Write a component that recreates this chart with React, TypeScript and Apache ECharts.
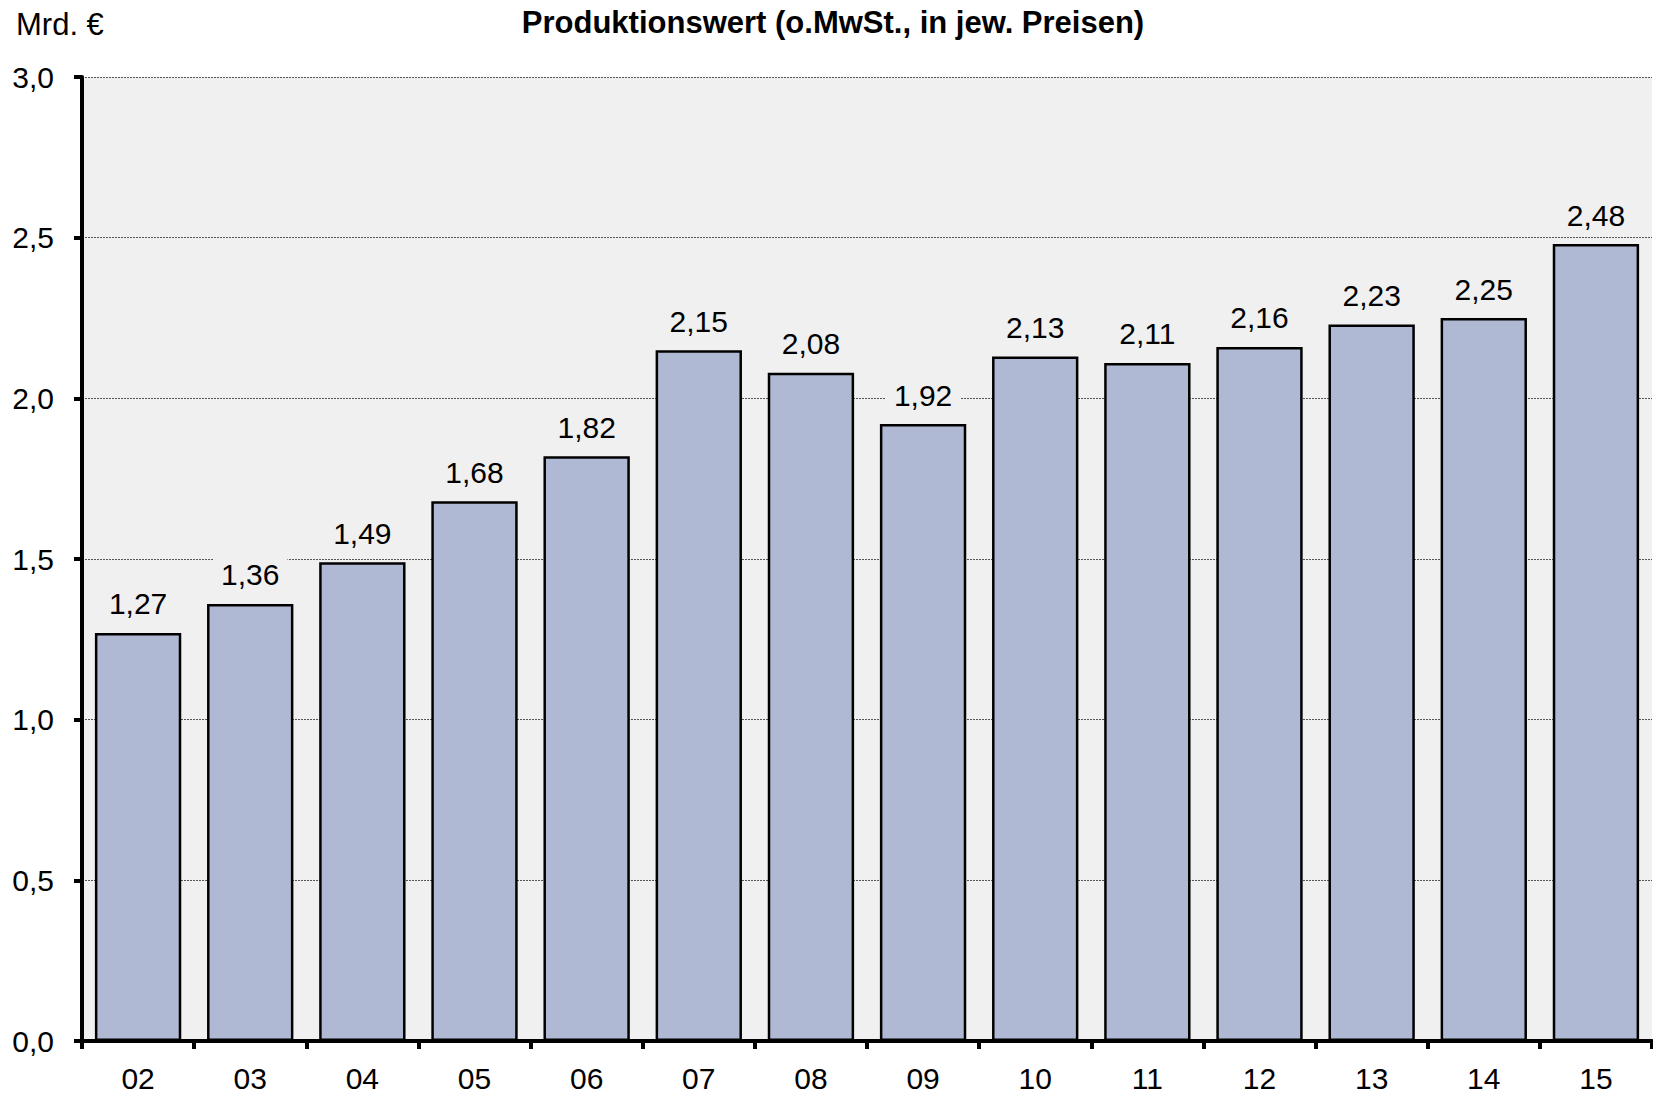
import React, { useEffect, useRef } from "react";
import * as echarts from "echarts";

const categories = ["02", "03", "04", "05", "06", "07", "08", "09", "10", "11", "12", "13", "14", "15"];
const values = [1.27, 1.36, 1.49, 1.68, 1.82, 2.15, 2.08, 1.92, 2.13, 2.11, 2.16, 2.23, 2.25, 2.48];
const titleText = "Produktionswert (o.MwSt., in jew. Preisen)";
const unitText = "Mrd. €";

const fmt = (v: number, d: number) => v.toFixed(d).replace(".", ",");

export default function App() {
  const ref = useRef<HTMLDivElement>(null);
  useEffect(() => {
    const chart = echarts.init(ref.current!, null, { renderer: "svg" });
    const font = "'Liberation Sans', Arial, sans-serif";
    chart.setOption({
      animation: false,
      textStyle: { fontFamily: font },
      title: [
        {
          text: titleText,
          left: 828,
          textAlign: "center",
          top: 2,
          textStyle: { fontSize: 31, fontWeight: "bold", color: "#000", fontFamily: font },
        },
        {
          text: unitText,
          left: 11,
          top: 4,
          textStyle: { fontSize: 31, fontWeight: "normal", color: "#000", fontFamily: font },
        },
      ],
      grid: {
        left: 82,
        right: 1,
        top: 77,
        bottom: 53,
        show: true,
        backgroundColor: "#f0f0f0",
        borderWidth: 0,
      },
      xAxis: {
        type: "category",
        data: categories,
        axisLine: { show: true, lineStyle: { color: "#000", width: 4 } },
        axisTick: { show: true, alignWithLabel: false, length: 8, lineStyle: { color: "#000", width: 4 } },
        axisLabel: { fontSize: 30, color: "#000", margin: 22, fontFamily: font },
      },
      yAxis: {
        type: "value",
        min: 0,
        max: 3,
        interval: 0.5,
        axisLine: { show: true, lineStyle: { color: "#000", width: 4 } },
        axisTick: { show: true, length: 8, lineStyle: { color: "#000", width: 4 } },
        axisLabel: { fontSize: 30, color: "#000", margin: 28, fontFamily: font, formatter: (v: number) => fmt(v, 1) },
        splitLine: { show: true, lineStyle: { color: "#555", width: 1, type: [2, 1] } },
      },
      series: [
        {
          type: "bar",
          data: values,
          barCategoryGap: "23%",
          itemStyle: { color: "#b0b9d3", borderColor: "#000", borderWidth: 2.5 },
          label: {
            show: true,
            position: "top",
            distance: 12,
            fontSize: 30,
            color: "#000",
            fontFamily: font,
            backgroundColor: "#f0f0f0",
            padding: [2, 8],
            formatter: (p: any) => fmt(p.value, 2),
          },
        },
      ],
    });
    return () => chart.dispose();
  }, []);
  return <div ref={ref} style={{ position: "fixed", left: 0, top: 0, width: 1653, height: 1094, background: "#fff" }} />;
}
